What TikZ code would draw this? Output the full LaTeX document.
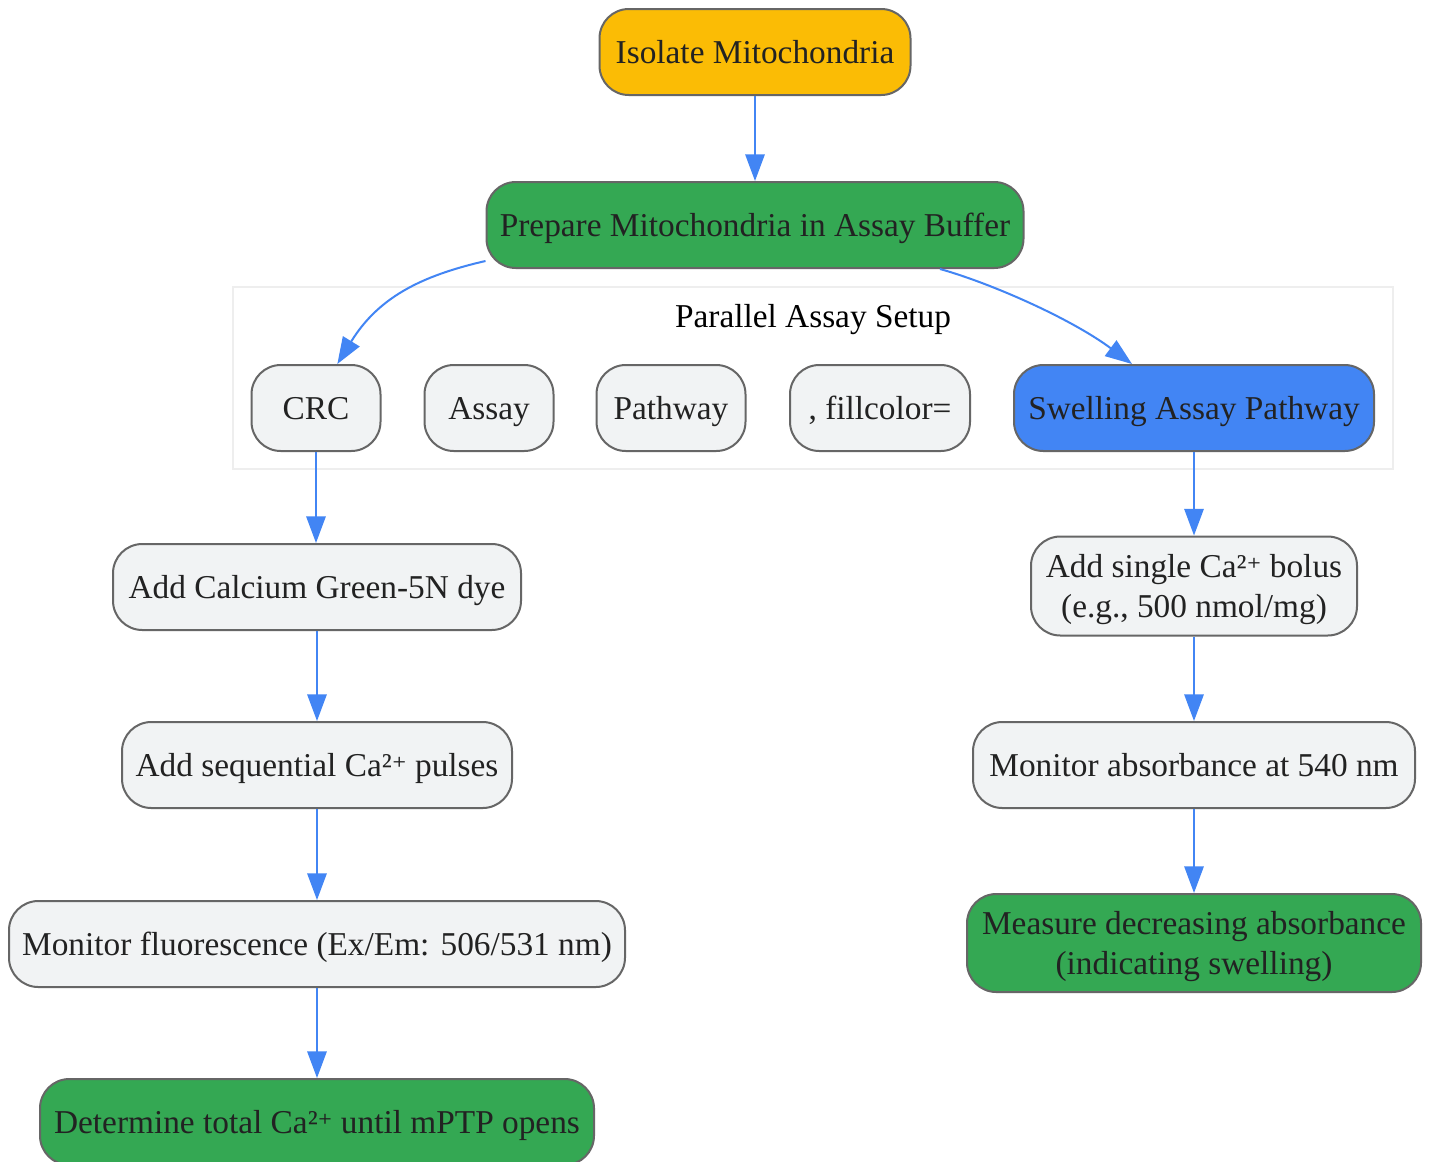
\documentclass[tikz,border=0pt]{standalone}
\usepackage{fontspec}
\setmainfont{Liberation Serif}
\newfontfamily\supfont[Scale=0.85]{DejaVu Serif}
\usetikzlibrary{arrows.meta,calc}
\definecolor{nodegray}{HTML}{F1F3F4}
\definecolor{bordergray}{HTML}{666666}
\definecolor{gyellow}{HTML}{FBBC05}
\definecolor{ggreen}{HTML}{34A853}
\definecolor{gblue}{HTML}{4285F4}
\definecolor{txt}{HTML}{222222}
\definecolor{clusterline}{HTML}{EEEEEE}
\newcommand{\lowtxt}[1]{\raisebox{-2.5pt}[\height][\depth]{\begin{tabular}{@{}c@{}}#1\end{tabular}}}
\newcommand{\catwo}{Ca²{\supfont ⁺}}
\tikzset{
  box/.style={draw=bordergray, line width=1.5pt, rounded corners=22pt, fill=nodegray,
    text=txt, inner sep=0pt, align=center, font=\fontsize{25}{30}\selectfont},
  yellowbox/.style={box, fill=gyellow},
  greenbox/.style={box, fill=ggreen},
  bluebox/.style={box, fill=gblue},
  flow/.style={draw=gblue, line width=1.5pt, -{Triangle[length=20pt,width=14.5pt]}},
}
\begin{document}
\begin{tikzpicture}[x=0.75pt,y=-0.75pt]
\useasboundingbox (0,0) rectangle (1430,1161);
\clip (0,0) rectangle (1430,1161);
\fill[white] (0,0) rectangle (1430,1161);
% cluster
\node[draw=clusterline, line width=1.2pt, fill=white, minimum width=870pt, minimum height=136.5pt, inner sep=0pt] (cluster) at (813,378) {};
\node[text=black, font=\fontsize{25}{30}\selectfont] (clabel) at (813,320) {Parallel Assay Setup};
% nodes
\node[yellowbox, minimum width=233.25pt, minimum height=64.5pt] (iso) at (755,52) {\lowtxt{Isolate Mitochondria}};
\node[greenbox, minimum width=402.75pt, minimum height=64.5pt] (prep) at (755,225) {\lowtxt{Prepare Mitochondria in Assay Buffer}};
\node[box, minimum width=96.75pt, minimum height=64.5pt] (crc) at (316,408) {\lowtxt{CRC}};
\node[box, minimum width=96.75pt, minimum height=64.5pt] (assay) at (489,408) {\lowtxt{Assay}};
\node[box, minimum width=111.75pt, minimum height=64.5pt] (path) at (671,408) {\lowtxt{Pathway}};
\node[box, minimum width=135pt, minimum height=64.5pt] (fill) at (880,408) {\lowtxt{, fillcolor=}};
\node[bluebox, minimum width=270pt, minimum height=64.5pt] (swell) at (1194,408) {\lowtxt{Swelling Assay Pathway}};
\node[box, minimum width=306pt, minimum height=64.5pt] (calc) at (317,587) {\lowtxt{Add Calcium Green-5N dye}};
\node[box, minimum width=292.5pt, minimum height=64.5pt] (seq) at (317,765) {\lowtxt{Add sequential \catwo{} pulses}};
\node[box, minimum width=462pt, minimum height=64.5pt] (fluo) at (317,944) {\lowtxt{Monitor fluorescence (Ex/Em: 506/531 nm)}};
\node[greenbox, minimum width=415.5pt, minimum height=64.5pt] (det) at (317,1122) {\lowtxt{Determine total \catwo{} until mPTP opens}};
\node[box, minimum width=244.5pt, minimum height=74.25pt] (bolus) at (1194,586) {\lowtxt{Add single \catwo{} bolus\\(e.g., 500 nmol/mg)}};
\node[box, minimum width=331.5pt, minimum height=64.5pt] (abs) at (1194,765) {\lowtxt{Monitor absorbance at 540 nm}};
\node[greenbox, minimum width=340.5pt, minimum height=73.5pt] (meas) at (1194,943) {\lowtxt{Measure decreasing absorbance\\(indicating swelling)}};
% connectors
\draw[flow] (iso) -- (prep);
\draw[flow] ([yshift=6pt]prep.south west) .. controls (420,276) and (378,298) .. ([xshift=16pt]crc.north);
\draw[flow] ([xshift=138.75pt]prep.south) .. controls (990,283) and (1070,318) .. ([xshift=-46.5pt]swell.north);
\draw[flow] (crc.south) -- (crc.south |- calc.north);
\draw[flow] (calc) -- (seq);
\draw[flow] (seq) -- (fluo);
\draw[flow] (fluo) -- (det);
\draw[flow] (swell) -- (bolus);
\draw[flow] (bolus) -- (abs);
\draw[flow] (abs) -- (meas);
\end{tikzpicture}
\end{document}
